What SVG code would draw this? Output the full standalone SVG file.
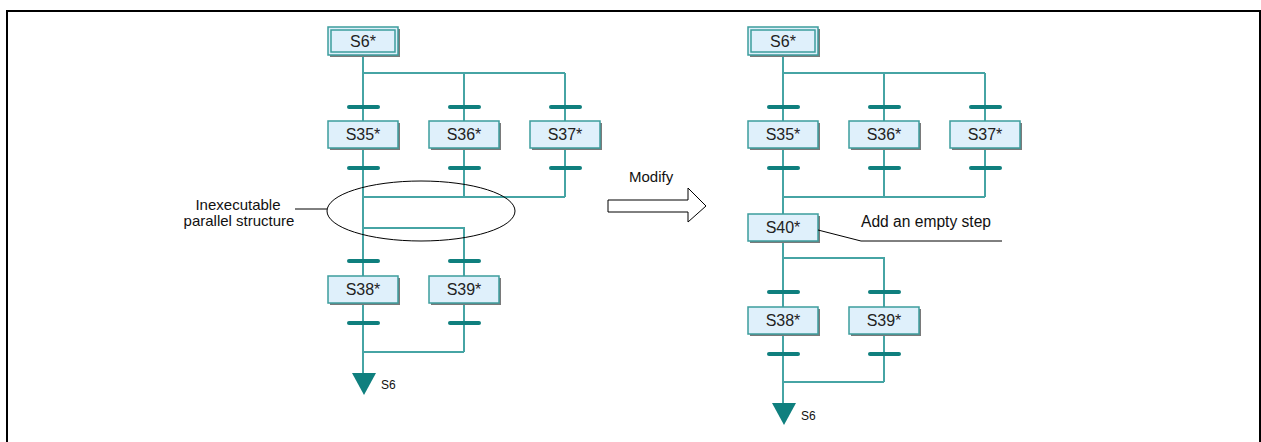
<svg xmlns="http://www.w3.org/2000/svg" width="1261" height="442" viewBox="0 0 1261 442">
<style>
.frame{fill:none;stroke:#000;stroke-width:2}
.wire{fill:none;stroke:#46a4a4;stroke-width:2}
.bar{stroke:#0f7f7e;stroke-width:4;stroke-linecap:round}
.box{fill:#dff0fb;stroke:#3d9d9d;stroke-width:1.5}
.shd{fill:#7a7a7a}
.sl{font-family:"Liberation Sans",Arial,sans-serif;font-size:16px;fill:#222;text-anchor:middle}
.lbl{font-family:"Liberation Sans",Arial,sans-serif;font-size:15px;fill:#111}
.end{fill:#0f7f7e}
.note{fill:none;stroke:#000;stroke-width:1}
</style>
<defs>
<clipPath id="clipAdd"><rect x="855" y="205" width="142" height="30"/></clipPath>
</defs>
<path class="frame" d="M7,442 V11 H1260 V442"/>

<g id="connectors">
<!-- left diagram -->
<path class="wire" d="M363,55 V121 M363,73 H565 M464,73 V121 M565,73 V121"/>
<path class="wire" d="M363,148 V276 M464,148 V197 M565,148 V197 M363,197 H565"/>
<path class="wire" d="M363,228 H464 V276"/>
<path class="wire" d="M363,303 V374 M464,303 V352 M363,352 H464"/>
<line class="bar" x1="349" y1="107" x2="378" y2="107"/>
<line class="bar" x1="450" y1="107" x2="479" y2="107"/>
<line class="bar" x1="551" y1="107" x2="580" y2="107"/>
<line class="bar" x1="349" y1="168" x2="378" y2="168"/>
<line class="bar" x1="450" y1="168" x2="479" y2="168"/>
<line class="bar" x1="551" y1="168" x2="580" y2="168"/>
<line class="bar" x1="349" y1="261" x2="378" y2="261"/>
<line class="bar" x1="450" y1="261" x2="479" y2="261"/>
<line class="bar" x1="349" y1="323" x2="378" y2="323"/>
<line class="bar" x1="450" y1="323" x2="479" y2="323"/>
<!-- right diagram -->
<path class="wire" d="M783,55 V121 M783,73 H985 M884,73 V121 M985,73 V121"/>
<path class="wire" d="M783,148 V214 M884,148 V197 M985,148 V197 M783,197 H985"/>
<path class="wire" d="M783,242 V307 M783,258 H884 V307"/>
<path class="wire" d="M783,334 V404 M884,334 V382 M783,382 H884"/>
<line class="bar" x1="769" y1="107" x2="798" y2="107"/>
<line class="bar" x1="870" y1="107" x2="899" y2="107"/>
<line class="bar" x1="971" y1="107" x2="1000" y2="107"/>
<line class="bar" x1="769" y1="168" x2="798" y2="168"/>
<line class="bar" x1="870" y1="168" x2="899" y2="168"/>
<line class="bar" x1="971" y1="168" x2="1000" y2="168"/>
<line class="bar" x1="769" y1="292" x2="798" y2="292"/>
<line class="bar" x1="870" y1="292" x2="899" y2="292"/>
<line class="bar" x1="769" y1="354" x2="798" y2="354"/>
<line class="bar" x1="870" y1="354" x2="899" y2="354"/>
</g>

<!-- left diagram steps -->
<g id="L-S6">
<rect class="shd" x="330" y="29" width="70" height="28"/>
<rect class="box" x="328" y="27" width="70" height="28"/>
<rect class="box" x="331" y="30" width="64" height="22"/>
<text class="sl" x="363" y="47">S6*</text>
</g>
<g id="L-S35"><rect class="shd" x="330" y="123" width="70" height="27"/><rect class="box" x="328" y="121" width="70" height="27"/><text class="sl" x="363" y="140">S35*</text></g>
<g id="L-S36"><rect class="shd" x="431" y="123" width="70" height="27"/><rect class="box" x="429" y="121" width="70" height="27"/><text class="sl" x="464" y="140">S36*</text></g>
<g id="L-S37"><rect class="shd" x="532" y="123" width="70" height="27"/><rect class="box" x="530" y="121" width="70" height="27"/><text class="sl" x="565" y="140">S37*</text></g>
<g id="L-S38"><rect class="shd" x="330" y="278" width="70" height="27"/><rect class="box" x="328" y="276" width="70" height="27"/><text class="sl" x="363" y="295">S38*</text></g>
<g id="L-S39"><rect class="shd" x="431" y="278" width="70" height="27"/><rect class="box" x="429" y="276" width="70" height="27"/><text class="sl" x="464" y="295">S39*</text></g>
<g id="L-jump">
<polygon class="end" points="352,373 376,373 364,395"/>
<text class="lbl" x="381" y="389" style="font-size:12px">S6</text>
</g>
<g id="L-note">
<ellipse class="note" cx="421" cy="211" rx="94" ry="30"/>
<line class="note" x1="295" y1="209" x2="327" y2="209"/>
<text class="lbl" x="238" y="210" text-anchor="middle">Inexecutable</text>
<text class="lbl" x="239" y="226" text-anchor="middle">parallel structure</text>
</g>

<!-- modify arrow -->
<g id="modify">
<polygon points="608,200 688,200 688,188 706,206 688,222 688,212 608,212" fill="#fff" stroke="#000" stroke-width="1"/>
<text class="lbl" x="629" y="182">Modify</text>
</g>

<!-- right diagram steps -->
<g id="R-S6">
<rect class="shd" x="750" y="29" width="70" height="28"/>
<rect class="box" x="748" y="27" width="70" height="28"/>
<rect class="box" x="751" y="30" width="64" height="22"/>
<text class="sl" x="783" y="47">S6*</text>
</g>
<g id="R-S35"><rect class="shd" x="750" y="123" width="70" height="27"/><rect class="box" x="748" y="121" width="70" height="27"/><text class="sl" x="783" y="140">S35*</text></g>
<g id="R-S36"><rect class="shd" x="851" y="123" width="70" height="27"/><rect class="box" x="849" y="121" width="70" height="27"/><text class="sl" x="884" y="140">S36*</text></g>
<g id="R-S37"><rect class="shd" x="952" y="123" width="70" height="27"/><rect class="box" x="950" y="121" width="70" height="27"/><text class="sl" x="985" y="140">S37*</text></g>
<g id="R-S40"><rect class="shd" x="750" y="216" width="70" height="27"/><rect class="box" x="748" y="214" width="70" height="27"/><text class="sl" x="783" y="233">S40*</text></g>
<g id="R-S38"><rect class="shd" x="750" y="309" width="70" height="27"/><rect class="box" x="748" y="307" width="70" height="27"/><text class="sl" x="783" y="326">S38*</text></g>
<g id="R-S39"><rect class="shd" x="851" y="309" width="70" height="27"/><rect class="box" x="849" y="307" width="70" height="27"/><text class="sl" x="884" y="326">S39*</text></g>
<g id="R-jump">
<polygon class="end" points="772,403 796,403 784,425"/>
<text class="lbl" x="801" y="420" style="font-size:12px">S6</text>
</g>
<g id="R-note">
<polyline class="note" points="818,230 861,241 1002,241"/>
<text class="lbl" x="861" y="227" clip-path="url(#clipAdd)" style="font-size:15.6px">Add an empty step</text>
</g>
</svg>
